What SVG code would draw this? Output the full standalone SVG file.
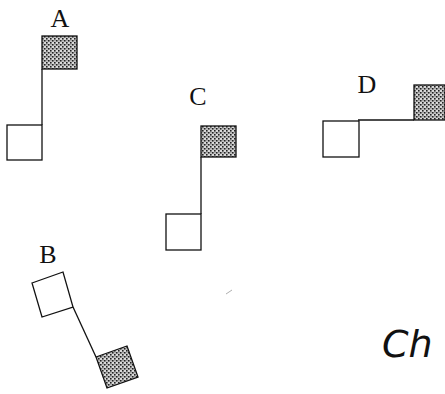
<svg xmlns="http://www.w3.org/2000/svg" width="445" height="394" viewBox="0 0 445 394">
<defs>
<pattern id="stip" width="4" height="4" patternUnits="userSpaceOnUse">
<rect width="4" height="4" fill="#d8d8d8"/>
<rect x="0" y="0" width="1.6" height="1.6" fill="#222"/>
<rect x="2" y="2" width="1.6" height="1.6" fill="#222"/>
<rect x="2.5" y="0.3" width="1" height="1" fill="#555"/>
</pattern>
<style>
.box{fill:#fff;stroke:#111;stroke-width:1.3}
.sh{fill:url(#stip);stroke:#111;stroke-width:1.3}
.ln{stroke:#111;stroke-width:1.3;fill:none}
.lbl{font-family:"Liberation Serif",serif;font-size:26px;fill:#111}
.hand{font-family:"DejaVu Sans",sans-serif;font-style:italic;font-size:38px;fill:#111;font-weight:200}
</style>
</defs>
<rect width="445" height="394" fill="#fff"/>
<g id="connectors">
<line class="ln" x1="42" y1="69" x2="42" y2="125"/>
<line class="ln" x1="201" y1="157" x2="201" y2="214"/>
<line class="ln" x1="358" y1="120" x2="414" y2="120"/>
<line class="ln" x1="73" y1="307" x2="96" y2="357"/>
</g>
<g id="A">
<text class="lbl" x="60" y="27" text-anchor="middle">A</text>
<rect class="sh" x="42" y="36" width="35" height="33"/>
<rect class="box" x="7" y="125" width="35" height="35"/>
</g>
<g id="C">
<text class="lbl" x="198" y="105" text-anchor="middle">C</text>
<rect class="sh" x="201" y="126" width="35" height="31"/>
<rect class="box" x="166" y="214" width="35" height="36"/>
</g>
<g id="D">
<text class="lbl" x="367" y="93" text-anchor="middle">D</text>
<rect class="sh" x="414" y="85" width="31" height="35"/>
<rect class="box" x="323" y="121" width="36" height="36"/>
</g>
<g id="B">
<text class="lbl" x="48" y="263" text-anchor="middle">B</text>
<polygon class="box" points="32,283 63,272 73,307 42,317"/>
<polygon class="sh" points="96,357 127,346 138,377 107,388"/>
</g>
<text class="hand" x="382" y="357">Ch</text>
<line x1="226" y1="294" x2="232" y2="290" stroke="#999" stroke-width="0.8"/>
</svg>
